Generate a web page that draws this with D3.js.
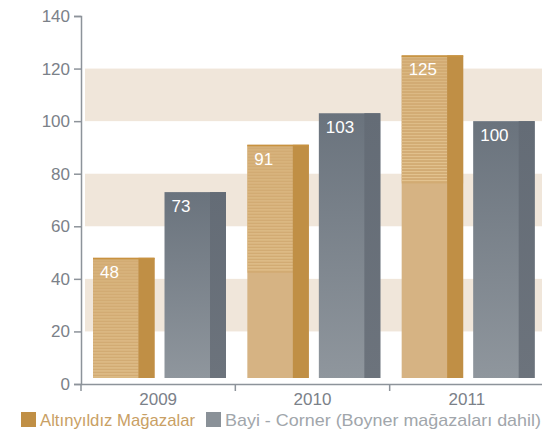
<!DOCTYPE html>
<html>
<head>
<meta charset="utf-8">
<script src="https://cdn.jsdelivr.net/npm/d3@7"></script>
<style>
  body { margin: 0; background: #fff; }
  svg { display: block; font-family: "Liberation Sans", Arial, sans-serif; }
</style>
</head>
<body>
<div id="chart"></div>
<script>
const years = ['2009', '2010', '2011'];
const altinyildiz = [48, 91, 125];
const bayiCorner = [73, 103, 100];
const seriesNames = ['Altınyıldız Mağazalar', 'Bayi - Corner (Boyner mağazaları dahil)'];
const yTicks = [0, 20, 40, 60, 80, 100, 120, 140];
const bands = [[20, 40], [60, 80], [100, 120]];

const width = 542, height = 437;

const svg = d3.select('#chart')
  .append('svg')
  .attr('width', width)
  .attr('height', height);

const defs = svg.append('defs');

const grayGrad = defs.append('linearGradient')
  .attr('id', 'grayFront')
  .attr('x1', 0).attr('y1', 0).attr('x2', 0).attr('y2', 1);
grayGrad.append('stop').attr('offset', '0%').attr('stop-color', '#6a737d');
grayGrad.append('stop').attr('offset', '100%').attr('stop-color', '#8f969d');

const graySide = defs.append('linearGradient')
  .attr('id', 'graySide')
  .attr('x1', 0).attr('y1', 0).attr('x2', 0).attr('y2', 1);
graySide.append('stop').attr('offset', '0%').attr('stop-color', '#646c76');
graySide.append('stop').attr('offset', '100%').attr('stop-color', '#6c737c');

const y = d3.scaleLinear()
  .domain([0, 140])
  .range([384, 16]);

const x = d3.scaleBand()
  .domain(years)
  .range([81, 544]);

const sub = d3.scaleBand()
  .domain([0, 1])
  .range([12, 145])
  .paddingInner(0.14);

const barBottom = y(0) - 6;
const sideW = 16;
const stripeDepth = 128;

// background bands
svg.append('g')
  .selectAll('rect')
  .data(bands)
  .enter()
  .append('rect')
  .attr('x', 85)
  .attr('width', width - 85)
  .attr('y', d => y(d[1]))
  .attr('height', d => y(d[0]) - y(d[1]))
  .attr('fill', '#f0e6da');

// y axis
const yAxis = d3.axisLeft(y)
  .tickValues(yTicks)
  .tickSize(7)
  .tickPadding(4);

const yAxisG = svg.append('g')
  .attr('transform', 'translate(81,0)')
  .call(yAxis);
yAxisG.select('.domain').attr('stroke', '#8d939a').attr('stroke-width', 1.5);
yAxisG.selectAll('.tick line').attr('stroke', '#8d939a').attr('stroke-width', 1.5);
yAxisG.selectAll('.tick text')
  .attr('fill', '#7b8189')
  .attr('font-size', 17)
  .attr('font-family', '"Liberation Sans", Arial, sans-serif');

// x axis
const xAxis = d3.axisBottom(x)
  .tickSize(0)
  .tickPadding(9);

const xAxisG = svg.append('g')
  .attr('transform', `translate(0,${y(0)})`)
  .call(xAxis);
xAxisG.select('.domain').attr('stroke', '#8d939a').attr('stroke-width', 1.5);
xAxisG.selectAll('.tick text')
  .attr('fill', '#7b8189')
  .attr('font-size', 17)
  .attr('font-family', '"Liberation Sans", Arial, sans-serif');

svg.append('g')
  .selectAll('line')
  .data(years)
  .enter()
  .append('line')
  .attr('x1', d => x(d))
  .attr('x2', d => x(d))
  .attr('y1', y(0))
  .attr('y2', y(0) + 7)
  .attr('stroke', '#8d939a')
  .attr('stroke-width', 1.5);

// gold bars
const goldG = svg.append('g')
  .selectAll('g')
  .data(years.map((yr, i) => ({ year: yr, value: altinyildiz[i] })))
  .enter()
  .append('g')
  .attr('transform', d => `translate(${x(d.year) + sub(0)},0)`);

goldG.append('rect')
  .attr('y', d => y(d.value))
  .attr('width', sub.bandwidth())
  .attr('height', d => barBottom - y(d.value))
  .attr('fill', '#d6b383');

goldG.each(function(d) {
  const g = d3.select(this);
  const top = y(d.value);
  const depth = Math.min(stripeDepth, barBottom - top);
  const rows = d3.range(0, depth - 3, 3);
  g.append('rect')
    .attr('y', top)
    .attr('width', sub.bandwidth())
    .attr('height', depth)
    .attr('fill', '#cfa466')
    .attr('opacity', 0.55);
  g.selectAll('rect.stripe')
    .data(rows)
    .enter()
    .append('rect')
    .attr('class', 'stripe')
    .attr('y', r => top + r + 1.5)
    .attr('width', sub.bandwidth() - sideW)
    .attr('height', 1.2)
    .attr('fill', '#e6c896')
    .attr('opacity', r => 0.35 + 0.5 * r / stripeDepth);
});

goldG.append('rect')
  .attr('x', sub.bandwidth() - sideW)
  .attr('y', d => y(d.value))
  .attr('width', sideW)
  .attr('height', d => barBottom - y(d.value))
  .attr('fill', '#c08f45');

goldG.append('rect')
  .attr('y', d => y(d.value))
  .attr('width', sub.bandwidth())
  .attr('height', 1.5)
  .attr('fill', '#c8923f');

goldG.append('text')
  .attr('x', 7)
  .attr('y', d => y(d.value) + 20)
  .attr('fill', '#fff')
  .attr('font-size', 17)
  .text(d => d.value);

// gray bars
const grayG = svg.append('g')
  .selectAll('g')
  .data(years.map((yr, i) => ({ year: yr, value: bayiCorner[i] })))
  .enter()
  .append('g')
  .attr('transform', d => `translate(${x(d.year) + sub(1)},0)`);

grayG.append('rect')
  .attr('y', d => y(d.value))
  .attr('width', sub.bandwidth())
  .attr('height', d => barBottom - y(d.value))
  .attr('fill', 'url(#grayFront)');

grayG.append('rect')
  .attr('x', sub.bandwidth() - sideW)
  .attr('y', d => y(d.value))
  .attr('width', sideW)
  .attr('height', d => barBottom - y(d.value))
  .attr('fill', 'url(#graySide)');

grayG.append('text')
  .attr('x', 7)
  .attr('y', d => y(d.value) + 20)
  .attr('fill', '#fff')
  .attr('font-size', 17)
  .text(d => d.value);

// legend
const legend = svg.append('g').attr('transform', 'translate(21,412)');
const legendItems = [
  { name: seriesNames[0], box: '#c08f45', text: '#c9a064', x: 0, len: 155 },
  { name: seriesNames[1], box: '#8a9198', text: '#a1a6ab', x: 185, len: 316 }
];
const li = legend.selectAll('g')
  .data(legendItems)
  .enter()
  .append('g')
  .attr('transform', d => `translate(${d.x},0)`);
li.append('rect')
  .attr('width', 15)
  .attr('height', 15)
  .attr('fill', d => d.box);
li.append('text')
  .attr('x', 19)
  .attr('y', 14)
  .attr('font-size', 17)
  .attr('textLength', d => d.len)
  .attr('lengthAdjust', 'spacingAndGlyphs')
  .attr('fill', d => d.text)
  .text(d => d.name);
</script>
</body>
</html>
